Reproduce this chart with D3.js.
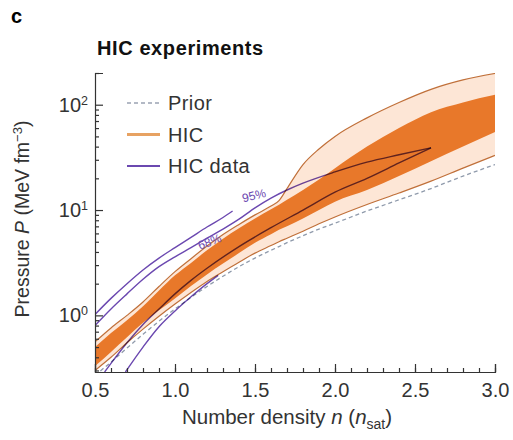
<!DOCTYPE html>
<html>
<head>
<meta charset="utf-8">
<script src="https://cdn.jsdelivr.net/npm/d3@7"></script>
<style>
  body { margin: 0; background: #fff; }
  text { font-family: "Liberation Sans", Arial, sans-serif; fill: #333; }
</style>
</head>
<body>
<div id="chart"></div>
<script>
// chart values
var bandN   = [0.5, 0.6, 0.7, 0.8, 0.9, 1.0, 1.1, 1.2, 1.3, 1.4, 1.5, 1.6, 1.65, 1.7, 1.8, 1.9, 2.0, 2.2, 2.4, 2.6, 2.8, 3.0];
var lightHi = [0.56, 0.76, 1.0, 1.34, 1.88, 2.6, 3.45, 4.55, 5.85, 7.3, 9.0, 10.9, 12.3, 16, 27, 38, 50, 75, 105, 140, 172, 198];
var darkHi  = [0.5, 0.68, 0.9, 1.22, 1.72, 2.4, 3.15, 4.15, 5.35, 6.7, 8.3, 10.2, 11.2, 12.5, 15.5, 19.5, 25, 40, 60, 85, 105, 124];
var darkLo  = [0.33, 0.45, 0.62, 0.85, 1.12, 1.45, 1.9, 2.45, 3.1, 3.9, 4.9, 5.9, 6.5, 7.0, 8.3, 10, 12, 15.5, 21, 29, 40, 55];
var lightLo = [0.3, 0.4, 0.55, 0.74, 0.98, 1.28, 1.65, 2.1, 2.6, 3.2, 3.9, 4.6, 5.0, 5.4, 6.3, 7.4, 8.6, 11.3, 14.5, 18.8, 25, 33];
var prior   = [0.27, 0.36, 0.49, 0.66, 0.88, 1.15, 1.48, 1.88, 2.35, 2.9, 3.5, 4.15, 4.5, 4.9, 5.7, 6.6, 7.5, 9.8, 12.5, 16, 21, 27];

// HIC data contours (purple)
var dataAN = [0.5, 0.6, 0.7, 0.8, 0.9, 1.0, 1.1, 1.2, 1.3, 1.36];
var dataAP = [1.02, 1.45, 2.0, 2.7, 3.5, 4.4, 5.5, 6.9, 8.5, 9.8];
var dataBN = [0.5, 0.6, 0.7, 0.8, 0.9, 1.0, 1.1, 1.2, 1.3, 1.4, 1.5, 1.6, 1.7, 1.8, 2.0, 2.2, 2.4, 2.6];
var dataBP = [0.8, 1.15, 1.6, 2.2, 2.9, 3.6, 4.4, 5.4, 6.6, 8.2, 10.5, 13, 15.5, 18, 23, 28.5, 33.5, 39];
var dataCN = [0.56, 0.6, 0.7, 0.8, 0.9, 1.0, 1.1, 1.2, 1.4, 1.6, 1.8, 2.0, 2.2, 2.4, 2.6];
var dataCP = [0.29, 0.35, 0.55, 0.82, 1.15, 1.6, 2.15, 2.8, 4.5, 6.8, 10, 14.8, 20, 28, 39];
var dataDN = [0.69, 0.8, 0.9, 1.0, 1.1, 1.2, 1.27];
var dataDP = [0.29, 0.5, 0.78, 1.1, 1.5, 2.0, 2.4];

var xTicks = [0.5, 1.0, 1.5, 2.0, 2.5, 3.0];
var yTicks = [1, 10, 100];
var yTickExp = ["0", "1", "2"];
var legendLabels = ["Prior", "HIC", "HIC data"];

var svgWidth = 513;
var svgHeight = 440;
var margin = {top: 73, right: 18, bottom: 68, left: 95};
var width = svgWidth - margin.left - margin.right;
var height = svgHeight - margin.top - margin.bottom;

var orangeDark = "#e8782a";
var orangeLight = "#fde6d6";
var edgeColor = "#c0703a";
var purple = "#6b48b0";

var svg = d3.select("#chart").append("svg")
  .attr("width", svgWidth)
  .attr("height", svgHeight);

var chartGroup = svg.append("g")
  .attr("transform", `translate(${margin.left}, ${margin.top})`);

var x = d3.scaleLinear().domain([0.5, 3.0]).range([0, width]);
var y = d3.scaleLog().domain([0.29, 200]).range([height, 0]);

svg.append("defs").append("clipPath").attr("id", "plotClip")
  .append("rect").attr("width", width).attr("height", height);

var plot = chartGroup.append("g").attr("clip-path", "url(#plotClip)");

function pairs(ns, ps) { return ns.map((n, i) => [n, ps[i]]); }

var band = d3.area()
  .x(d => x(d[0]))
  .y0(d => y(d[1]))
  .y1(d => y(d[2]))
  .curve(d3.curveMonotoneX);

var line = d3.line()
  .x(d => x(d[0]))
  .y(d => y(d[1]))
  .curve(d3.curveMonotoneX);

// light (95%) band
plot.append("path")
  .datum(bandN.map((n, i) => [n, lightLo[i], lightHi[i]]))
  .attr("fill", orangeLight)
  .attr("d", band);

// dark (68%) band
plot.append("path")
  .datum(bandN.map((n, i) => [n, darkLo[i], darkHi[i]]))
  .attr("fill", orangeDark)
  .attr("d", band);

// band edges
[lightHi, lightLo].forEach(function(vals) {
  plot.append("path")
    .datum(pairs(bandN, vals))
    .attr("fill", "none")
    .attr("stroke", edgeColor)
    .attr("stroke-width", 1.2)
    .attr("d", line);
});

// prior lower bound
plot.append("path")
  .datum(pairs(bandN, prior))
  .attr("fill", "none")
  .attr("stroke", "#8f9aab")
  .attr("stroke-width", 1.3)
  .attr("stroke-dasharray", "4,3")
  .attr("d", line);

// HIC data contours
[[dataAN, dataAP], [dataBN, dataBP], [dataCN, dataCP], [dataDN, dataDP]].forEach(function(c) {
  plot.append("path")
    .datum(pairs(c[0], c[1]))
    .attr("fill", "none")
    .attr("stroke", purple)
    .attr("stroke-width", 1.4)
    .style("mix-blend-mode", "multiply")
    .attr("d", line);
});

// contour labels
var pctLabels = [{t: "95%", n: 1.5, p: 12.6, r: -14}, {t: "68%", n: 1.225, p: 4.6, r: -20}];
pctLabels.forEach(function(l) {
  chartGroup.append("text")
    .attr("transform", `translate(${x(l.n)}, ${y(l.p)}) rotate(${l.r})`)
    .attr("text-anchor", "middle")
    .style("font-size", "12px")
    .style("fill", purple)
    .text(l.t);
});

// x axis
var xMinor = d3.range(5, 31).map(d => d / 10);
chartGroup.append("g")
  .attr("transform", `translate(0, ${height})`)
  .call(d3.axisBottom(x).tickValues(xMinor).tickSize(-4).tickFormat(""))
  .call(g => g.select(".domain").remove());
var xAxis = chartGroup.append("g")
  .attr("transform", `translate(0, ${height})`)
  .call(d3.axisBottom(x).tickValues(xTicks).tickSize(-8).tickPadding(11).tickFormat(d3.format(".1f")));

// y axis
var yMinor = [];
[0.1, 1, 10, 100].forEach(function(dec) {
  for (var k = 2; k <= 9; k++) yMinor.push(dec * k);
});
yMinor = yMinor.filter(v => v >= 0.29 && v <= 200);
chartGroup.append("g")
  .call(d3.axisLeft(y).tickValues(yMinor).tickSize(-4).tickFormat(""))
  .call(g => g.select(".domain").remove());
var yAxis = chartGroup.append("g")
  .call(d3.axisLeft(y).tickValues(yTicks).tickSize(-8).tickPadding(7).tickFormat(""));

yAxis.selectAll(".tick").each(function(d, i) {
  var t = d3.select(this).append("text")
    .attr("x", -7).attr("dy", "0.32em")
    .attr("text-anchor", "end")
    .style("font-size", "20px");
  t.append("tspan").text("10");
  t.append("tspan").attr("dy", "-0.55em").style("font-size", "12.5px").text(yTickExp[i]);
});

svg.selectAll(".domain, .tick line").attr("stroke", "#333").attr("stroke-width", 1.2);
xAxis.selectAll("text").style("font-size", "20px").style("fill", "#333");

// axis titles
var xTitle = svg.append("text")
  .attr("x", 287)
  .attr("y", 424)
  .attr("text-anchor", "middle")
  .style("font-size", "20.5px");
xTitle.append("tspan").text("Number density ");
xTitle.append("tspan").style("font-style", "italic").text("n");
xTitle.append("tspan").text(" (");
xTitle.append("tspan").style("font-style", "italic").text("n");
xTitle.append("tspan").attr("dy", 5).style("font-size", "14px").text("sat");
xTitle.append("tspan").attr("dy", -5).text(")");

var yTitle = svg.append("text")
  .attr("transform", `translate(29, 219) rotate(-90)`)
  .attr("text-anchor", "middle")
  .style("font-size", "19.5px");
yTitle.append("tspan").text("Pressure ");
yTitle.append("tspan").style("font-style", "italic").text("P");
yTitle.append("tspan").text(" (MeV fm");
yTitle.append("tspan").attr("dy", -7).style("font-size", "13px").text("\u22123");
yTitle.append("tspan").attr("dy", 7).text(")");

// panel letter and title
svg.append("text").attr("x", 11).attr("y", 23)
  .style("font-size", "20px").style("font-weight", "bold").style("fill", "#000")
  .text("c");
svg.append("text").attr("x", 97).attr("y", 55)
  .style("font-size", "20px").style("font-weight", "bold").style("fill", "#111")
  .style("letter-spacing", "0.6px")
  .text("HIC experiments");

// legend
var legend = svg.append("g").attr("transform", "translate(127, 103)");
var legendStyles = [
  {stroke: "#9aa3b3", width: 1.5, dash: "4,3"},
  {stroke: "#e7a262", width: 3, dash: null},
  {stroke: purple, width: 2, dash: null}
];
legendLabels.forEach(function(lab, i) {
  var row = legend.append("g").attr("transform", `translate(0, ${i * 31.5})`);
  row.append("line")
    .attr("x1", 0).attr("x2", 33)
    .attr("stroke", legendStyles[i].stroke)
    .attr("stroke-width", legendStyles[i].width)
    .attr("stroke-dasharray", legendStyles[i].dash);
  row.append("text")
    .attr("x", 41).attr("dy", "0.35em")
    .style("font-size", "20px")
    .style("letter-spacing", "0.4px")
    .text(lab);
});
</script>
</body>
</html>
